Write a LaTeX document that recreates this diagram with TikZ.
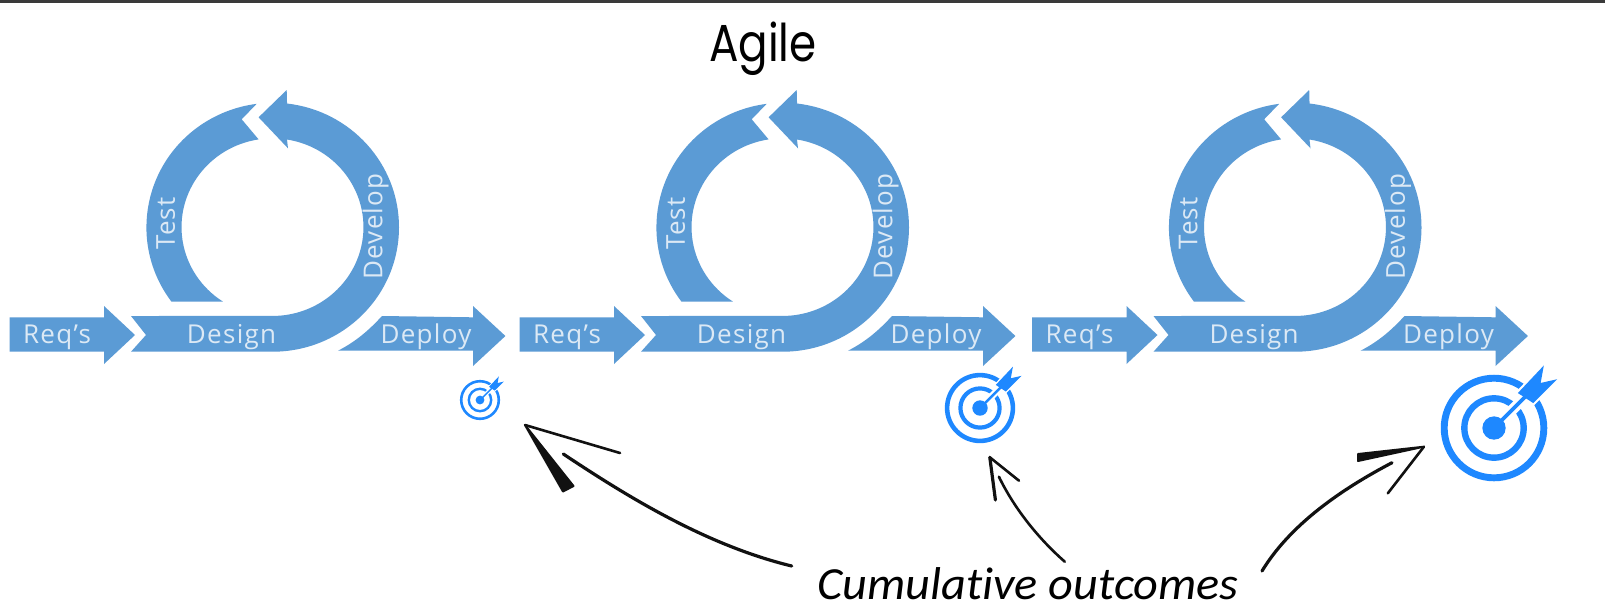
\documentclass[tikz,border=0pt]{standalone}
\usepackage{fontspec}
\newfontfamily\labelfont[LetterSpace=5]{Open Sans}
\newfontfamily\titlefont{Poppins}
\newfontfamily\handfont[Ligatures=NoCommon,ItalicFont={Carlito Italic},ItalicFeatures={Ligatures=NoCommon}]{Carlito}
\definecolor{flow}{HTML}{5B9BD5}
\definecolor{flowtext}{HTML}{DCE9F5}
\definecolor{aim}{HTML}{1E88FF}
\definecolor{topbar}{HTML}{3A3A3A}
\definecolor{ink}{HTML}{111111}
\tikzset{
  x=1pt,y=1pt,
  flowshape/.style={fill=flow,draw=none},
  flowlabel/.style={text=flowtext,font=\labelfont\fontsize{26}{26}\selectfont,inner sep=0pt},
  flatlabel/.style={flowlabel,anchor=base},
  sketchline/.style={draw=ink,line cap=round,line join=round,line width=2.6pt},
  sketchfill/.style={fill=ink,draw=ink,line join=round,line width=2pt},
}
% one Req's/Design/Test/Develop/Deploy unit
\newcommand{\agileunit}[2]{%
\begin{scope}[shift={(#1,0)}]
  \fill[flowshape] (9.5,-317.3) -- (104,-317.3) -- (104,-306) -- (135,-335) -- (104,-364) -- (104,-351.7) -- (9.5,-351.7) -- cycle;
  \fill[flowshape] (131,-316) -- (146,-335) -- (131,-351.7) -- (272.5,-351.7)
     arc[start angle=270,end angle=443.4,x radius=126.5,y radius=124.5]
     -- (286.7,-90) -- (258.6,-117.3) -- (288,-148.3) -- (287,-139.5)
     arc[start angle=80.8,end angle=-90,x radius=91,y radius=88.8] -- cycle;
  \fill[flowshape] (171.5,-301.7)
     arc[start angle=216.7,end angle=97.4,x radius=126.5,y radius=124.5]
     -- (241.7,-119.3) -- (258.6,-139.4)
     arc[start angle=98.8,end angle=237,x radius=91,y radius=88.8] -- cycle;
  \fill[flowshape] (338,-350.7) .. controls (357,-341) and (370,-329) .. (382,-316) -- (473,-317.3) -- (473,-306) -- (505.4,-336) -- (473,-366) -- (473,-350.7) -- cycle;
  \node[flatlabel] (req#2) at (57,-343) {Req’s};
  \node[flatlabel] (design#2) at (231.6,-343) {Design};
  \node[flowlabel,rotate=90] (test#2) at (165.7,-223.5) {Test};
  \node[flowlabel,rotate=90] (develop#2) at (375.5,-226.5) {Develop};
  \node[flatlabel] (deploy#2) at (426,-343) {Deploy};
\end{scope}}
% target: centre x, centre y, radius
\newcommand{\aimmark}[3]{%
\begin{scope}[shift={(#1,#2)},scale=#3]
  \draw[aim,line width=#3*.13pt] (0,0) circle[radius=.94];
  \draw[aim,line width=#3*.12pt] (0,0) circle[radius=.56];
  \draw[white,line width=#3*.2pt] (0,0) -- (.6,.6);
  \filldraw[white,line width=#3*.08pt] (.45,.66) -- (.94,1.18) -- (.88,.85) -- (1.19,.92) -- (.74,.47) -- cycle;
  \fill[aim] (0,0) circle[radius=.22];
  \draw[aim,line width=#3*.07pt] (0,0) -- (.6,.6);
  \fill[aim] (.45,.66) -- (.94,1.18) -- (.88,.85) -- (1.19,.92) -- (.74,.47) -- cycle;
\end{scope}}
\begin{document}
\begin{tikzpicture}
  \useasboundingbox (0,0) rectangle (1605,-614);
  \fill[white] (0,0) rectangle (1605,-614);
  \fill[topbar] (0,0) rectangle (1605,-3);
  \node[inner sep=0pt,anchor=base] (title) at (763,-61) {\scalebox{.84}[1]{\titlefont\fontsize{52}{52}\selectfont Agile}};
  \agileunit{0}{a}
  \agileunit{510}{b}
  \agileunit{1022.5}{c}
  \aimmark{480}{-400}{20}
  \aimmark{980}{-408}{35}
  \aimmark{1494}{-428}{53}
  \node[inner sep=0pt,anchor=base west] (caption) at (817,-599) {\scalebox{1.05}[1]{\handfont\itshape\fontsize{46}{46}\selectfont Cumulative outcomes}};
  % left sketch arrow
  \coordinate (la0) at (791.7,-566);
  \coordinate (la1) at (563.3,-454);
  \coordinate (latip) at (525,-425);
  \draw[sketchline,line width=3.2pt] (la0) .. controls (705,-545) and (625,-495) .. (la1);
  \draw[sketchline] (latip) -- (620,-453);
  \fill[sketchfill] (latip) -- (573.5,-486) -- (563,-491.5) -- cycle;
  % middle sketch arrow
  \coordinate (ma0) at (1064.8,-561.7);
  \coordinate (ma1) at (998.9,-476.7);
  \coordinate (matip) at (989.8,-457.3);
  \draw[sketchline] (ma0) .. controls (1040,-540) and (1015,-510) .. (ma1);
  \draw[sketchline] (matip) -- (1019,-480.7);
  \draw[sketchline,line width=3.2pt] (matip) -- (995.4,-500);
  % right sketch arrow
  \coordinate (ra0) at (1262,-571);
  \coordinate (ra1) at (1392,-462.7);
  \coordinate (ratip) at (1423.9,-446.7);
  \draw[sketchline,line width=3.2pt] (ra0) .. controls (1290,-525) and (1340,-490) .. (ra1);
  \draw[sketchline] (ratip) -- (1387.8,-493.3);
  \fill[sketchfill] (ratip) -- (1358,-454) -- (1358,-461) -- cycle;
\end{tikzpicture}
\end{document}
